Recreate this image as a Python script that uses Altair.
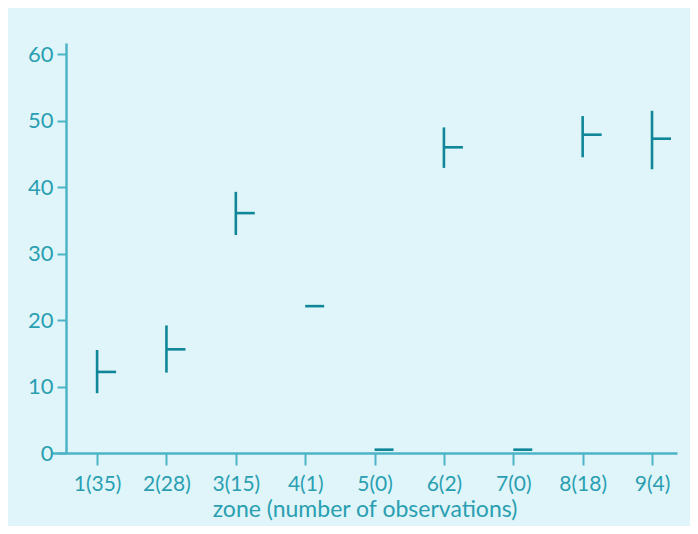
import altair as alt
import pandas as pd

zone_num = [1, 2, 3, 4, 5, 6, 7, 8, 9]
zone_labels = ["1(35)", "2(28)", "3(15)", "4(1)", "5(0)", "6(2)", "7(0)", "8(18)", "9(4)"]
low = [9.0, 12.1, 32.8, None, None, 42.9, None, 44.5, 42.7]
high = [15.5, 19.2, 39.3, None, None, 49.0, None, 50.7, 51.5]
mean = [12.2, 15.6, 36.1, 22.1, 0.5, 46.0, 0.5, 47.9, 47.3]

df = pd.DataFrame({"zone": zone_num, "label": zone_labels, "low": low, "high": high, "mean": mean})

BG = "#e0f5f9"
MARK = "#0f8798"
AXIS = "#4db3c6"
TEXT = "#2a9fb2"
FONT = "Lato"

label_js = "[" + ",".join("'%s'" % s for s in zone_labels) + "][datum.value - 1]"

x = alt.X(
    "zone:Q",
    scale=alt.Scale(domain=[0.35, 9.36], nice=False, zero=False),
    axis=alt.Axis(
        values=zone_num,
        labelExpr=label_js,
        title="zone (number of observations)",
        grid=False,
        tickSize=12,
        tickWidth=2,
        tickColor=AXIS,
        domainColor=AXIS,
        domainWidth=2.5,
        labelColor=TEXT,
        labelFont=FONT,
        labelFontSize=21,
        labelPadding=8,
        titleColor=TEXT,
        titleFont=FONT,
        titleFontSize=23,
        titleFontWeight="normal",
        titlePadding=4,
    ),
)

y_scale = alt.Scale(domain=[0, 61.7], nice=False, zero=True)
y_axis = alt.Axis(
    values=[0, 10, 20, 30, 40, 50, 60],
    title=None,
    grid=False,
    tickSize=9,
    tickWidth=2,
    tickColor=AXIS,
    domainColor=AXIS,
    domainWidth=2.5,
    labelColor=TEXT,
    labelFont=FONT,
    labelFontSize=22,
    labelPadding=4,
    offset=-14,
)

base = alt.Chart(df)

ranges = base.mark_rule(color=MARK, strokeWidth=2.6).encode(
    x=x,
    y=alt.Y("low:Q", scale=y_scale, axis=y_axis),
    y2="high:Q",
)

means = base.mark_rule(color=MARK, strokeWidth=2.6, x2Offset=19).encode(
    x=x,
    x2="zone:Q",
    y=alt.Y("mean:Q", scale=y_scale, axis=y_axis),
)

chart = (
    alt.layer(ranges, means)
    .properties(
        width=625,
        height=410,
        autosize="none",
        padding={"left": 44, "top": 35, "right": 13, "bottom": 73},
        background=BG,
    )
    .configure_view(stroke=None)
)

chart.save("out.html", embed_options={"renderer": "svg", "actions": False})
